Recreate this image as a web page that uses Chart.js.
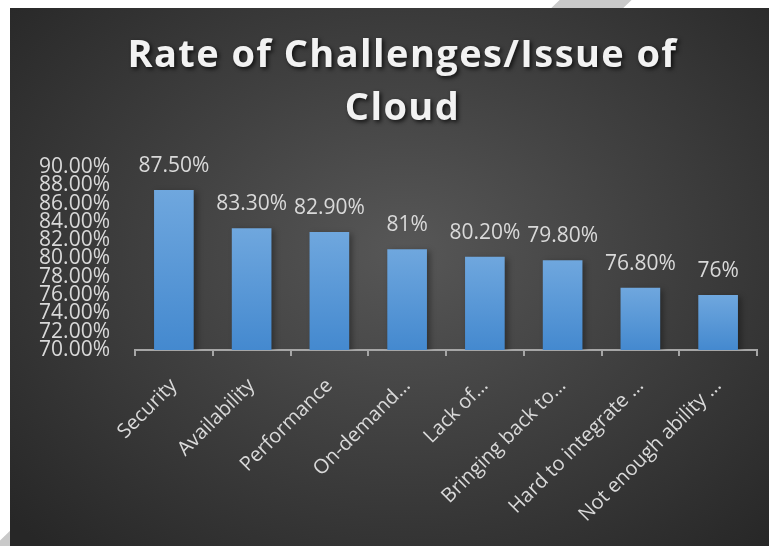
<!DOCTYPE html>
<html>
<head>
<meta charset="utf-8">
<script src="https://cdn.jsdelivr.net/npm/chart.js@4"></script>
<style>
    body { margin: 0; background: #fff; overflow: hidden; width: 769px; height: 546px; position: relative; }
    #banda { position: absolute; left: 291px; top: -230px; width: 50px; height: 1000px; background: #c9c9c9; transform: rotate(46deg); }
    #caja {
        position: absolute; left: 10px; top: 8px; width: 759px; height: 538px;
        background: radial-gradient(ellipse 70% 75% at 52% 45%, #575757 0%, #414141 45%, #272727 100%);
    }
</style>
</head>
<body>
<div id="banda"></div>
<div id="caja"><canvas id="grafico" width="759" height="538"></canvas></div>
<script>
const categorias = ['Security', 'Availability', 'Performance', 'On-demand…', 'Lack of…',
    'Bringing back to…', 'Hard to integrate …', 'Not enough ability …'];
const valores = [87.5, 83.3, 82.9, 81, 80.2, 79.8, 76.8, 76];
const etiquetas = ['87.50%', '83.30%', '82.90%', '81%', '80.20%', '79.80%', '76.80%', '76%'];
const titulo = ['Rate of Challenges/Issue of', 'Cloud'];

const textoGris = '#d9d9d9';
const fuente = "'Open Sans', sans-serif";

// degradado por barra, claro arriba y mas oscuro abajo
function colorBarra(context) {
    const chart = context.chart;
    if (!chart.chartArea || !chart.scales.y) return '#5b9bd5';
    const yTop = chart.scales.y.getPixelForValue(valores[context.dataIndex]);
    const g = chart.ctx.createLinearGradient(0, yTop, 0, chart.chartArea.bottom);
    g.addColorStop(0, '#6fa7de');
    g.addColorStop(1, '#4489cf');
    return g;
}

const sombraTitulo = {
    id: 'sombraTitulo',
    beforeDraw(chart) {
        const tb = chart.titleBlock;
        if (!tb || tb._envuelto) return;
        const original = tb.draw;
        tb.draw = function() {
            const ctx = chart.ctx;
            ctx.save();
            ctx.translate(19, 0);
            ctx.letterSpacing = '1.4px';
            ctx.shadowColor = 'rgba(0,0,0,0.75)';
            ctx.shadowBlur = 4;
            ctx.shadowOffsetX = 2;
            ctx.shadowOffsetY = 2;
            original.apply(this, arguments);
            ctx.restore();
        };
        tb._envuelto = true;
    }
};

const sombraBarras = {
    id: 'sombraBarras',
    beforeDatasetsDraw(chart) {
        const ctx = chart.ctx;
        ctx.save();
        ctx.shadowColor = 'rgba(0,0,0,0.35)';
        ctx.shadowBlur = 6;
        ctx.shadowOffsetX = 3;
        ctx.shadowOffsetY = 2;
    },
    afterDatasetsDraw(chart) {
        chart.ctx.restore();
    }
};

const etiquetasDatos = {
    id: 'etiquetasDatos',
    afterDatasetsDraw(chart) {
        const ctx = chart.ctx;
        const meta = chart.getDatasetMeta(0);
        ctx.save();
        ctx.font = '21px ' + fuente;
        ctx.fillStyle = textoGris;
        ctx.textAlign = 'center';
        ctx.textBaseline = 'middle';
        meta.data.forEach(function(barra, i) {
            ctx.fillText(etiquetas[i], barra.x, barra.y - 24);
        });
        ctx.restore();
    }
};

new Chart(document.getElementById('grafico'), {
    type: 'bar',
    data: {
        labels: categorias,
        datasets: [{
            data: valores,
            backgroundColor: colorBarra,
            borderWidth: 0,
            barPercentage: 0.51,
            categoryPercentage: 1
        }]
    },
    options: {
        responsive: false,
        animation: false,
        layout: { padding: { left: 0, right: 12, top: 0, bottom: 0 } },
        plugins: {
            legend: { display: false },
            tooltip: { enabled: false },
            title: {
                display: true,
                text: titulo,
                color: '#f2f2f2',
                font: { family: fuente, size: 38, weight: 'bold', lineHeight: '53px' },
                padding: { top: 22, bottom: 31 }
            }
        },
        scales: {
            x: {
                grid: { display: true, drawOnChartArea: false, offset: true, tickLength: 6, color: '#a6a6a6', lineWidth: 2 },
                border: { display: true, color: '#a6a6a6', width: 2 },
                ticks: {
                    color: textoGris, font: { family: fuente, size: 20 },
                    minRotation: 45, maxRotation: 45, autoSkip: false, padding: 18
                },
                afterFit(scale) { scale.height = 196; }
            },
            y: {
                min: 70,
                max: 90,
                grid: { display: false, drawTicks: false },
                border: { display: false },
                ticks: {
                    stepSize: 2,
                    autoSkip: false,
                    padding: 25,
                    color: textoGris,
                    font: { family: fuente, size: 21 },
                    callback: function(v) { return v.toFixed(2) + '%'; }
                },
                afterFit(scale) { scale.width = 125; }
            }
        }
    },
    plugins: [sombraTitulo, sombraBarras, etiquetasDatos]
});
</script>
</body>
</html>
